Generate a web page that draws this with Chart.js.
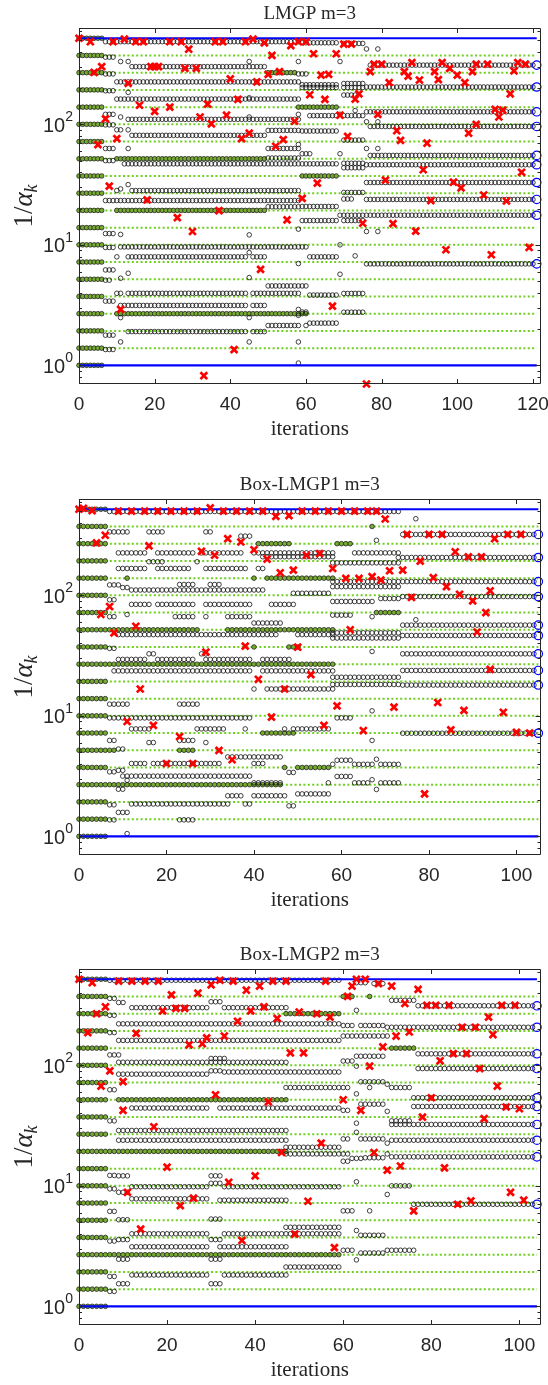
<!DOCTYPE html>
<html>
<head>
<meta charset="utf-8">
<script src="https://cdn.jsdelivr.net/npm/chart.js@4.4.0/dist/chart.umd.min.js"></script>
<style>
  html, body { margin: 0; padding: 0; background: #fff; }
  #wrap { position: relative; width: 548px; height: 1385px; overflow: hidden; }
  #wrap canvas { position: absolute; left: 0; }
</style>
</head>
<body>
<div id="wrap">
  <canvas id="p1" width="548" height="444" style="top:0px"></canvas>
  <canvas id="p2" width="548" height="444" style="top:471px"></canvas>
  <canvas id="p3" width="548" height="444" style="top:941px"></canvas>
</div>
<script>
// eigenvalue levels (1/alpha) shared by all three panels
const levels = [1, 1.389, 1.931, 2.683, 3.728, 5.179, 7.197, 10, 13.89, 19.31, 26.83, 37.28, 51.79, 71.97, 100, 138.9, 193.1, 268.3, 372.8, 517.9];
const startIters = [0, 6];          // green filled circles at every level
const yMajor = [1, 10, 100];
const yMinor = [0.8, 0.9, 2, 3, 4, 5, 6, 7, 8, 9, 20, 30, 40, 50, 60, 70, 80, 90, 200, 300, 400, 500, 600];
const yRange = [0.7, 630];

// ---------- LMGP m=3 ----------
const lmgpTicks = [0, 20, 40, 60, 80, 100, 120];
const lmgpLast = 121;
const lmgpGreen = [[268.3, 50, 57], [138.9, 58, 68], [51.79, 10, 49], [37.28, 59, 68], [19.31, 10, 49], [2.683, 10, 60]];
const lmgpBlack = [
  [485, 7, 58], [475, 59, 68], [469, 70, 75], [422, 76, 76], [422, 79, 79],
  [361, 7, 9], [332, 11, 11], [332, 13, 13], [332, 45, 45], [332, 58, 58], [332, 69, 69],
  [301, 14, 49], [310, 77, 120], [262, 7, 9], [262, 58, 60],
  [225, 10, 58], [213, 59, 68], [202, 59, 68], [218, 70, 75], [202, 70, 75], [204, 76, 120],
  [190, 7, 9], [184, 13, 13], [162, 10, 58], [166, 45, 45], [175, 70, 73],
  [121, 7, 9], [115, 11, 11], [115, 45, 45], [121, 58, 58], [121, 69, 69], [130, 73, 73],
  [110, 13, 58], [118, 61, 68], [118, 70, 75], [127, 76, 120],
  [99, 7, 9], [105, 76, 76], [105, 79, 79], [90, 10, 11], [90, 13, 13], [81, 14, 49], [89, 50, 58], [88, 59, 68], [96, 77, 120],
  [63, 7, 9], [63, 13, 13], [63, 50, 58], [68, 58, 58], [74, 70, 75], [57, 59, 61], [57, 69, 69], [63, 76, 76], [63, 79, 79],
  [52.5, 50, 58], [50, 7, 9], [47, 12, 58], [47, 59, 68], [47.5, 70, 75], [43.6, 70, 75], [55.2, 77, 120], [46.2, 76, 120],
  [28.2, 10, 10], [29.1, 11, 11], [31.6, 13, 13], [28.2, 14, 58], [23.3, 7, 58], [20.8, 59, 68], [27.2, 70, 75], [24, 70, 72],
  [32.9, 76, 120], [23.8, 76, 120],
  [20.7, 50, 58], [15.9, 59, 68], [17.6, 69, 120], [13.5, 58, 58], [12.1, 45, 45], [12.2, 11, 11], [12.4, 7, 9],
  [15.9, 70, 75], [12.9, 76, 76], [12.9, 79, 79],
  [9.51, 7, 9], [9.61, 11, 60], [7.95, 10, 10], [8.62, 45, 45], [6.99, 58, 58], [10, 69, 69], [8.1, 73, 73],
  [7.95, 13, 44], [7.95, 46, 49], [7.95, 61, 68], [6.95, 76, 120],
  [6.19, 7, 9], [5.81, 13, 13], [5.28, 11, 11], [5.09, 7, 8], [5.35, 45, 45], [5.7, 69, 69],
  [4.56, 50, 60], [3.96, 10, 11], [3.96, 13, 44], [3.96, 46, 58], [3.83, 61, 68], [3.95, 70, 75], [3.41, 7, 9],
  [3.14, 11, 44], [3.14, 46, 49], [2.91, 58, 58], [2.76, 70, 75],
  [2.49, 11, 11], [2.49, 45, 45], [2.6, 58, 58], [2.77, 59, 60], [2.24, 61, 68], [2.14, 50, 58], [2.14, 60, 60],
  [1.78, 7, 9], [1.905, 13, 44], [1.905, 46, 49], [1.564, 11, 11], [1.564, 45, 45], [1.564, 58, 58],
  [1.353, 7, 9], [1.044, 58, 58]
];
const lmgpRed = [
  [0, 518], [3, 485], [9, 485], [12, 509], [15, 485], [17, 485], [24, 485], [27, 485], [36, 485], [38, 485], [44, 485],
  [46, 509], [49, 475], [56, 450], [58, 485], [60, 485], [70, 463], [72, 463], [29, 420], [51, 373], [62, 385], [68, 385],
  [6, 301], [4, 270], [78, 316], [80, 316], [88, 325], [96, 325], [105, 316], [108, 316], [116, 325], [118, 316],
  [19, 301], [20, 301], [21, 301], [28, 291], [31, 291],
  [77, 274], [86, 274], [87, 251], [90, 233], [94, 274], [95, 235], [98, 291], [100, 256], [104, 274], [115, 278],
  [64, 256], [66, 260], [50, 260], [53, 274], [40, 238], [47, 225], [13, 219], [82, 222], [102, 222],
  [114, 179], [61, 176], [65, 161], [73, 162], [74, 179], [16, 144], [20, 128], [24, 139], [34, 147], [42, 161],
  [7, 111], [32, 115], [39, 119], [57, 106], [69, 119], [79, 121], [110, 133], [111, 115], [112, 131],
  [5, 67.8], [10, 76.1], [35, 101], [43, 76.1], [45, 84.4], [52, 65.8], [54, 74.7], [71, 79.5], [84, 88.5],
  [85, 73.6], [92, 69.7], [103, 84.4], [105, 100], [91, 42], [117, 40],
  [8, 30.7], [18, 23.6], [26, 16.8], [30, 12.9], [37, 19.2], [55, 16.1], [59, 24.3], [63, 32.5], [75, 15.1],
  [83, 15], [89, 13], [81, 34.4], [93, 23.3], [99, 33.1], [101, 29.7], [107, 25.9], [113, 23.1],
  [97, 9.1], [119, 9.51], [109, 8.27], [48, 6.25], [11, 2.91], [67, 3.1], [41, 1.35], [33, 0.82], [76, 0.7]
];
const lmgpFinal = [310, 204, 127, 96, 55.2, 46.2, 32.9, 23.8, 17.6, 6.95];

// ---------- Box-LMGP1 m=3 ----------
const box1Ticks = [0, 20, 40, 60, 80, 100];
const box1Last = 105;
const box1Green = [[372.8, 67, 67], [268.3, 41, 48], [268.3, 59, 62], [138.9, 43, 58], [138.9, 40, 40], [138.9, 11, 11],
  [71.97, 68, 73], [51.79, 7, 27], [51.79, 34, 58], [37.28, 40, 40], [37.28, 48, 50], [26.83, 7, 58],
  [7.197, 42, 49], [5.179, 7, 8], [5.179, 23, 26], [3.728, 47, 47], [3.728, 50, 57], [2.683, 7, 46]];
const box1Black = [
  [496, 7, 73],
  [336, 7, 11], [336, 16, 19], [336, 29, 30], [310, 37, 39], [432, 77, 77], [286, 68, 68], [320, 74, 104],
  [225, 9, 15], [225, 18, 26], [225, 28, 37], [225, 40, 58], [209, 42, 58], [225, 63, 73], [206, 73, 104],
  [190, 16, 19], [190, 27, 27], [167, 9, 15], [167, 18, 25], [167, 29, 38], [167, 41, 42], [186, 58, 73],
  [122, 7, 9], [116, 10, 11], [110.7, 12, 29], [110.7, 30, 42], [123, 23, 26], [123, 30, 32], [104, 49, 57],
  [130, 58, 73], [118, 58, 73], [130, 74, 104],
  [97.7, 74, 104], [91.9, 7, 8], [84.1, 12, 16], [84.1, 18, 26], [84.1, 29, 39], [84.1, 44, 49], [88.9, 58, 62], [88.9, 63, 67], [94, 69, 73],
  [66.5, 7, 8], [69.3, 11, 11], [66.5, 22, 26], [66.5, 29, 29], [66.5, 34, 39], [58.9, 40, 46], [66.5, 67, 67], [62.7, 77, 77],
  [68.5, 58, 62], [56.6, 74, 104],
  [47.2, 9, 45], [47.2, 50, 58], [48.8, 58, 73], [44.2, 58, 73], [46.4, 74, 104],
  [36.3, 7, 8], [32.7, 16, 17], [32.7, 28, 29], [34.2, 67, 67], [32.7, 74, 104],
  [29.4, 9, 15], [29.4, 18, 26], [29.4, 29, 39], [29.4, 42, 48],
  [23.6, 8, 39], [23.6, 42, 58], [20.9, 58, 73], [23.8, 74, 104],
  [16.7, 40, 40], [16.7, 43, 58], [18.2, 58, 73], [18.0, 74, 104],
  [12.5, 7, 11], [12.5, 23, 27], [11.0, 67, 67],
  [9.61, 7, 39], [9.61, 59, 62], [7.79, 12, 16], [7.79, 27, 33], [7.79, 38, 38], [7.79, 47, 47], [7.79, 49, 57], [7.17, 74, 104],
  [6.25, 7, 8], [6.25, 23, 26], [6.0, 16, 17], [6.0, 29, 29], [6.25, 67, 67], [5.3, 9, 10],
  [3.43, 7, 8], [3.53, 9, 10], [4.02, 12, 15], [4.02, 17, 32], [4.02, 40, 42], [4.56, 34, 46], [4.28, 59, 62],
  [3.96, 58, 58], [3.96, 63, 67], [3.96, 69, 73], [4.36, 68, 68], [3.39, 48, 49],
  [3.16, 10, 39], [2.78, 40, 46], [2.46, 9, 10], [2.92, 11, 11], [3.14, 59, 62], [2.78, 57, 57], [2.78, 63, 66],
  [2.78, 69, 73], [2.95, 67, 67], [2.45, 68, 68],
  [1.825, 7, 8], [1.58, 9, 11], [1.856, 12, 34], [1.856, 38, 39], [2.17, 34, 37], [2.17, 40, 47], [2.25, 50, 57], [1.79, 48, 49],
  [1.37, 7, 8], [1.37, 23, 26], [1.053, 11, 11]
];
const box1Red = [
  [0, 518], [1, 528], [3, 505], [9, 500], [12, 500], [15, 500], [18, 500], [21, 500], [24, 500], [27, 500], [30, 531],
  [33, 500], [36, 500], [39, 500], [42, 500], [45, 452], [48, 459], [51, 500], [54, 500], [57, 500], [60, 500], [63, 500],
  [66, 500], [68, 500], [70, 430],
  [6, 315], [4, 272], [16, 257], [28, 232], [31, 215], [34, 295], [37, 277], [40, 239], [43, 200], [46, 154], [49, 162],
  [52, 215], [55, 222], [58, 167], [61, 138], [64, 138], [67, 143], [69, 134], [71, 160], [74, 162], [75, 320], [80, 320],
  [83, 320], [95, 295], [98, 320], [101, 320], [86, 230], [89, 209], [92, 209], [78, 192], [81, 140], [84, 118], [90, 90],
  [94, 109], [87, 102], [76, 96], [7, 80.7],
  [5, 69.3], [93, 71.8], [8, 48.8], [13, 55.4], [38, 37.9], [50, 37.1], [62, 51.8], [91, 49.6], [29, 33.8], [14, 16.7],
  [41, 20.1], [47, 16.7], [53, 22], [94, 24.3], [82, 12.9], [88, 11.1], [97, 10.7], [72, 11.8], [59, 12.1], [44, 9.75],
  [17, 8.34], [11, 8.97], [56, 8.34], [65, 7.55], [85, 7.64], [100, 7.3], [103, 7.2], [23, 6.73],
  [32, 5.16], [20, 4.02], [26, 4.02], [35, 4.32], [79, 2.25]
];
const box1Final = [320, 206, 130, 97.7, 56.6, 46.4, 32.7, 23.8, 18.0, 7.17];

// ---------- Box-LMGP2 m=3 ----------
const box2Ticks = [0, 20, 40, 60, 80, 100];
const box2Last = 104;
const box2Green = [[372.8, 60, 62], [372.8, 66, 66], [268.3, 47, 59], [138.9, 71, 76], [51.79, 9, 47], [19.31, 7, 47], [2.683, 7, 59]];
const box2Black = [
  [508, 7, 59], [485, 63, 65], [477, 67, 69],
  [359, 7, 8], [332, 9, 10], [301, 12, 29], [337, 30, 32], [301, 33, 47], [346, 71, 76], [312, 77, 103],
  [260, 7, 8], [221, 9, 59], [286, 63, 63], [214, 60, 62], [214, 64, 69], [207, 70, 103],
  [187, 7, 8], [161, 9, 59], [175, 60, 70],
  [122, 7, 9], [106, 9, 47], [114, 30, 33], [108.6, 60, 62], [119, 63, 69], [98.4, 63, 63], [124.6, 77, 103],
  [84.5, 9, 29], [90, 30, 32], [88, 33, 59], [94, 77, 103],
  [62.7, 7, 8], [65.4, 47, 61], [58, 63, 63], [65.4, 66, 66], [73, 64, 69], [69.7, 70, 70], [65.4, 71, 75],
  [44.2, 12, 29], [44.2, 32, 59], [42.3, 60, 61], [47.6, 64, 69], [41.5, 70, 70], [53.8, 76, 103], [45.5, 76, 103],
  [34.6, 7, 8], [33.1, 63, 63], [34.6, 71, 75], [32.3, 71, 103], [28.8, 9, 47],
  [23.9, 9, 47], [20.9, 47, 59], [24.5, 60, 61], [27.8, 63, 63], [24.5, 64, 69], [22.6, 70, 70], [23.9, 71, 103],
  [18.4, 47, 61], [16.9, 62, 64], [17.1, 65, 69], [18.4, 70, 70], [17.4, 71, 103], [16.0, 60, 61],
  [12.2, 7, 8], [12.1, 9, 11], [12.1, 30, 32],
  [9.44, 7, 8], [8.84, 9, 11], [9.83, 12, 29], [10.5, 30, 32], [9.83, 33, 59], [10.8, 63, 63], [8.48, 70, 70], [10, 71, 75],
  [7.8, 12, 29], [7.6, 32, 47], [7.03, 76, 103],
  [6.14, 7, 8], [5.23, 9, 11], [5.3, 30, 32], [6.2, 60, 62], [6.2, 66, 66],
  [3.48, 7, 8], [3.58, 9, 11], [4.0, 12, 29], [3.58, 30, 32], [4.0, 33, 59], [4.53, 47, 59], [4.26, 63, 63], [3.89, 64, 69],
  [3.12, 12, 29], [3.12, 32, 47], [2.46, 9, 11], [2.46, 30, 32], [2.92, 60, 62], [2.43, 63, 63], [2.77, 64, 69], [2.92, 70, 76],
  [1.77, 7, 8], [1.54, 9, 11], [1.54, 30, 32], [1.82, 12, 29], [1.82, 33, 47], [2.12, 47, 59],
  [1.33, 7, 8]
];
const box2Red = [
  [0, 518], [3, 485], [9, 500], [12, 500], [15, 500], [18, 500], [30, 466], [32, 508], [35, 500], [38, 420], [41, 455],
  [44, 500], [47, 500], [56, 500], [63, 518], [65, 518], [68, 477], [62, 455], [71, 455], [77, 427], [21, 384], [27, 397],
  [6, 306], [4, 268], [19, 283], [22, 297], [24, 297], [39, 283], [42, 306], [45, 245], [61, 373], [74, 326], [79, 315],
  [81, 315], [84, 315], [96, 315], [99, 315], [93, 251], [94, 180], [50, 277], [54, 268], [57, 251], [36, 232], [87, 207], [90, 207],
  [2, 187], [13, 184], [25, 148], [28, 151], [29, 169], [33, 175], [72, 175], [75, 189], [48, 127], [51, 127], [69, 142],
  [66, 98.4], [82, 109], [85, 125], [88, 125], [7, 90], [91, 94],
  [5, 67.3], [10, 73.2], [31, 57], [43, 49.7], [60, 51.8], [80, 53.8], [95, 67.3], [97, 45.1], [100, 43.6], [64, 42.3],
  [10, 42.3], [17, 30.9], [78, 37.2], [92, 36.1], [55, 22.6], [46, 18.9], [67, 18.9], [70, 13.5], [73, 14.6], [83, 14.1],
  [20, 14.3], [40, 12.1], [34, 10.7], [11, 8.84], [26, 7.9], [98, 8.84],
  [52, 7.45], [86, 7.03], [89, 7.5], [101, 7.6], [23, 6.85], [76, 6.2], [14, 4.37], [37, 3.52], [49, 3.98], [58, 3.07]
];
const box2Final = [312, 207, 124.6, 94, 53.8, 45.5, 32.3, 23.9, 17.4, 7.03];

// runs [value, firstIter, lastIter] -> one point per iteration
function expand(runs) {
  const pts = [];
  runs.forEach(([y, a, b]) => {
    for (let i = a; i <= b; i++) pts.push({ x: i, y: y });
  });
  return pts;
}

const framePlugin = {
  id: 'frame',
  afterDraw(chart, args, o) {
    const { ctx, chartArea: a } = chart;
    const xs = chart.scales.x, ys = chart.scales.y;
    const ink = '#262626';
    ctx.save();
    ctx.strokeStyle = ink;
    ctx.lineWidth = 1;
    ctx.beginPath();
    ctx.rect(Math.round(a.left) + 0.5, Math.round(a.top) + 0.5,
      Math.round(a.right - a.left) - 1, Math.round(a.bottom - a.top) - 1);
    o.xTicks.forEach(v => {
      const px = Math.round(xs.getPixelForValue(v)) + 0.5;
      ctx.moveTo(px, a.bottom); ctx.lineTo(px, a.bottom - 5);
      ctx.moveTo(px, a.top); ctx.lineTo(px, a.top + 5);
    });
    const yTick = (v, len) => {
      const py = Math.round(ys.getPixelForValue(v)) + 0.5;
      ctx.moveTo(a.left, py); ctx.lineTo(a.left + len, py);
      ctx.moveTo(a.right, py); ctx.lineTo(a.right - len, py);
    };
    yMajor.forEach(v => yTick(v, 5));
    yMinor.forEach(v => yTick(v, 3));
    ctx.stroke();

    ctx.fillStyle = ink;
    ctx.textAlign = 'center';
    ctx.textBaseline = 'middle';
    ctx.font = '19px "Liberation Sans", Arial, sans-serif';
    o.xTicks.forEach(v => ctx.fillText(String(v), xs.getPixelForValue(v), a.bottom + 21));

    ctx.textAlign = 'right';
    yMajor.forEach(v => {
      const py = ys.getPixelForValue(v);
      const exp = String(Math.round(Math.log10(v)));
      ctx.font = '14px "Liberation Sans", Arial, sans-serif';
      const we = ctx.measureText(exp).width;
      ctx.fillText(exp, a.left - 6, py - 7);
      ctx.font = '20px "Liberation Sans", Arial, sans-serif';
      ctx.fillText('10', a.left - 6 - we, py + 2);
    });

    const cx = (a.left + a.right) / 2;
    ctx.textAlign = 'center';
    ctx.font = '19px "Liberation Serif", serif';
    ctx.fillText(o.title, cx, a.top - 14);
    ctx.font = '21px "Liberation Serif", serif';
    ctx.fillText('iterations', cx, a.bottom + 45);

    // y title 1/alpha_k
    ctx.translate(24, (a.top + a.bottom) / 2);
    ctx.rotate(-Math.PI / 2);
    ctx.textBaseline = 'alphabetic';
    ctx.textAlign = 'left';
    ctx.font = '27px "Liberation Serif", serif';
    const w1 = ctx.measureText('1/').width;
    ctx.font = 'italic 27px "Liberation Serif", serif';
    const w2 = ctx.measureText('\u03B1').width;
    ctx.font = 'italic 18px "Liberation Serif", serif';
    const w3 = ctx.measureText('k').width;
    const sx = -(w1 + w2 + w3) / 2;
    ctx.font = '27px "Liberation Serif", serif';
    ctx.fillText('1/', sx, 8);
    ctx.font = 'italic 27px "Liberation Serif", serif';
    ctx.fillText('\u03B1', sx + w1, 8);
    ctx.font = 'italic 18px "Liberation Serif", serif';
    ctx.fillText('k', sx + w1 + w2, 13);
    ctx.restore();
  }
};

function buildPanel(id, title, ticks, last, xmax, green, black, red, finals) {
  const sets = [];
  sets.push({
    data: finals.map(y => ({ x: last, y: y })),
    pointStyle: 'circle', pointRadius: 4.2, pointBorderWidth: 1.2,
    pointBorderColor: '#0000ff', pointBackgroundColor: 'rgba(0,0,0,0)', order: 0, clip: false
  });
  sets.push({
    data: red.map(([x, y]) => ({ x: x, y: y })),
    pointStyle: 'crossRot', pointRadius: 4.8, pointBorderWidth: 2.7,
    pointBorderColor: '#ff0000', pointBackgroundColor: '#ff0000', order: 1, clip: false
  });
  [levels[0], levels[levels.length - 1]].forEach(v => sets.push({
    data: [{ x: 0, y: v }, { x: last, y: v }], showLine: true, pointRadius: 0,
    borderColor: '#0000ff', borderWidth: 2.2, order: 2
  }));
  sets.push({
    data: expand(black), pointStyle: 'circle', pointRadius: 2.3, pointBorderWidth: 0.8,
    pointBorderColor: '#111111', pointBackgroundColor: 'rgba(0,0,0,0)', order: 3, clip: false
  });
  const greenRuns = levels.map(v => [v, startIters[0], startIters[1]]).concat(green);
  sets.push({
    data: expand(greenRuns), pointStyle: 'circle', pointRadius: 2.3, pointBorderWidth: 0.8,
    pointBorderColor: '#222222', pointBackgroundColor: '#77ac30', order: 4, clip: false
  });
  levels.slice(1, -1).forEach(v => sets.push({
    data: [{ x: 0, y: v }, { x: last, y: v }], showLine: true, pointRadius: 0,
    borderColor: '#6fcf1f', borderWidth: 2, borderDash: [2, 2.4], order: 5
  }));

  new Chart(document.getElementById(id).getContext('2d'), {
    type: 'scatter',
    data: { datasets: sets },
    options: {
      responsive: false,
      animation: false,
      devicePixelRatio: 1,
      events: [],
      layout: { padding: { left: 79, right: 3, top: 28, bottom: 60 } },
      scales: {
        x: { type: 'linear', min: 0, max: xmax, display: false },
        y: { type: 'logarithmic', min: yRange[0], max: yRange[1], display: false }
      },
      plugins: {
        legend: { display: false },
        tooltip: { enabled: false },
        colors: { enabled: false },
        frame: { title: title, xTicks: ticks }
      }
    },
    plugins: [framePlugin]
  });
}

buildPanel('p1', 'LMGP m=3', lmgpTicks, lmgpLast, 122, lmgpGreen, lmgpBlack, lmgpRed, lmgpFinal);
buildPanel('p2', 'Box-LMGP1 m=3', box1Ticks, box1Last, 105.5, box1Green, box1Black, box1Red, box1Final);
buildPanel('p3', 'Box-LMGP2 m=3', box2Ticks, box2Last, 104.8, box2Green, box2Black, box2Red, box2Final);
</script>
</body>
</html>
